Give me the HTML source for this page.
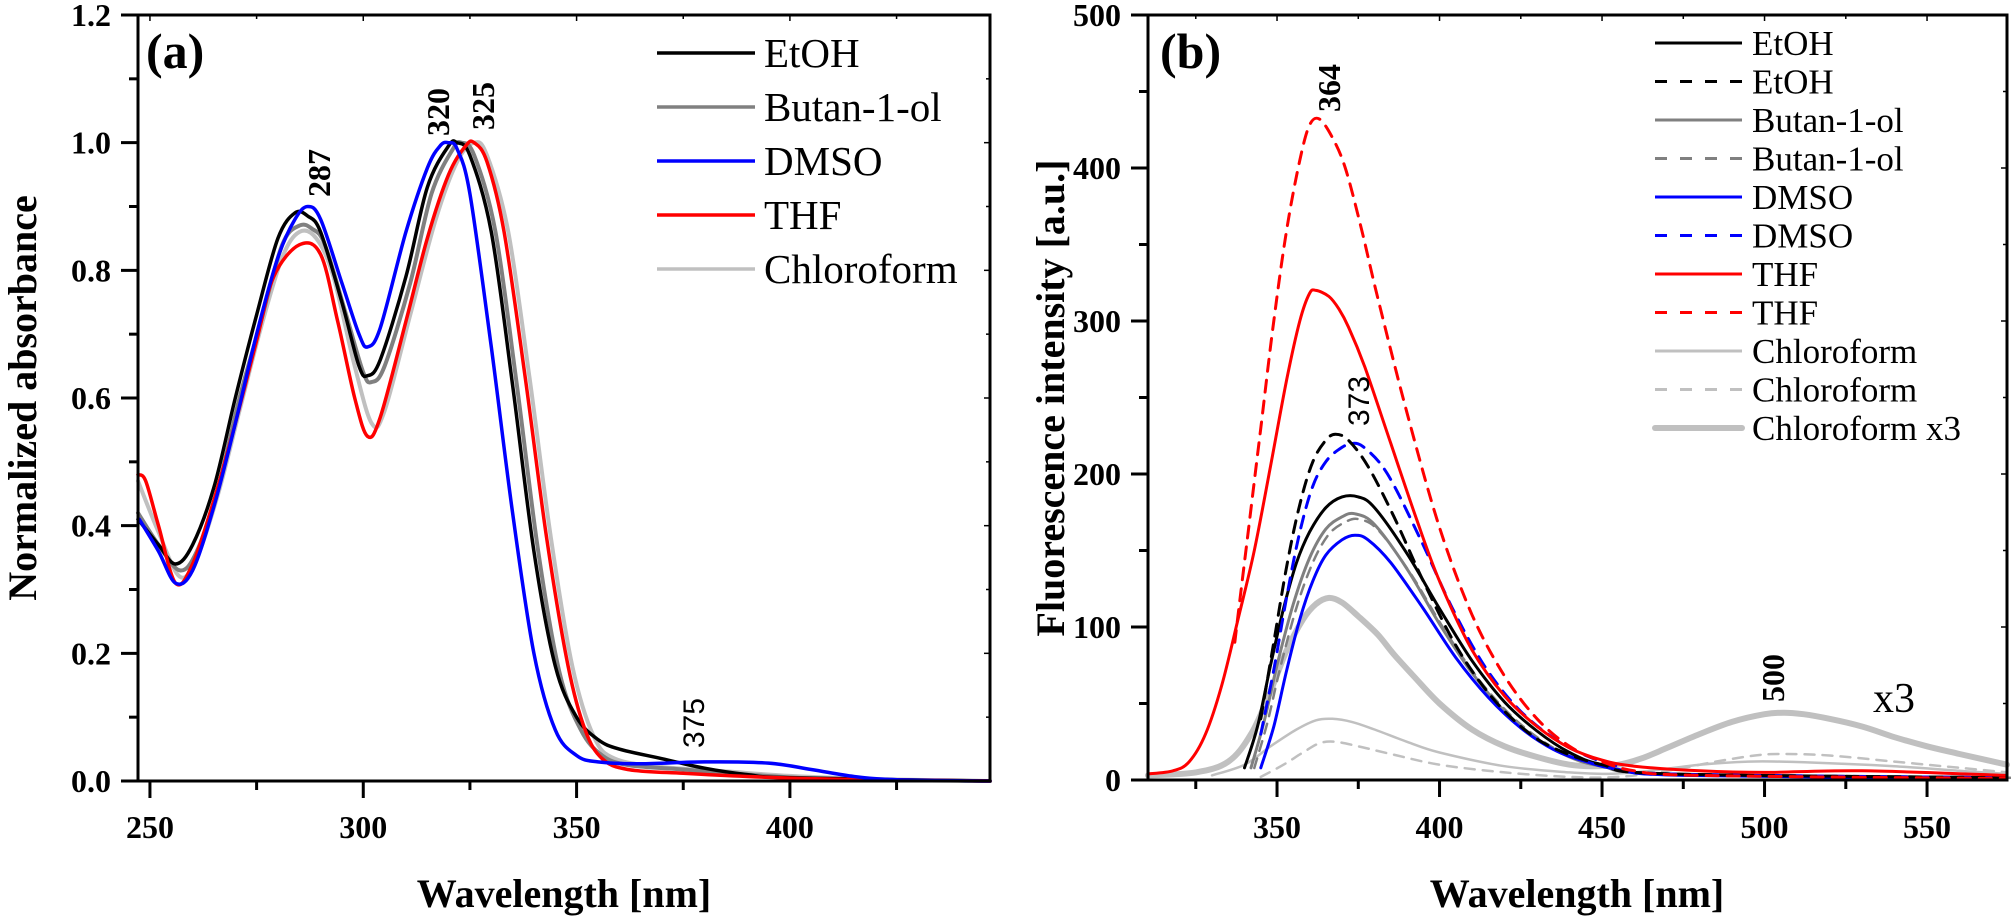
<!DOCTYPE html>
<html><head><meta charset="utf-8">
<style>
html,body{margin:0;padding:0;background:#fff;}
svg{display:block;}
text{font-family:"Liberation Serif",serif;}
.tk{font-weight:bold;font-size:32px;}
.ttl{font-weight:bold;font-size:40px;}
.lg{font-size:41px;}
.lgb{font-size:35px;}
</style></head>
<body>
<svg id="s" width="2011" height="916" xmlns="http://www.w3.org/2000/svg">
<rect width="2011" height="916" fill="#fff"/>
<g id="curves" fill="none" stroke-linejoin="round" stroke-linecap="round"></g>
<g id="axes" stroke="#000" stroke-width="3" fill="none"></g>
<g id="labels"></g>
<text x="146" y="68" style="font-weight:bold;font-size:50px">(a)</text>
<text x="1160" y="68" style="font-weight:bold;font-size:50px">(b)</text>
<text class="ttl" x="564" y="907" text-anchor="middle">Wavelength [nm]</text>
<text class="ttl" x="1577" y="907" text-anchor="middle">Wavelength [nm]</text>
<text class="ttl" transform="translate(36,398) rotate(-90)" text-anchor="middle">Normalized absorbance</text>
<text class="ttl" transform="translate(1064,398) rotate(-90)" text-anchor="middle">Fluorescence intensity [a.u.]</text>
<text class="tk" transform="translate(330,197) rotate(-90)">287</text>
<text class="tk" transform="translate(449,136) rotate(-90)">320</text>
<text class="tk" transform="translate(494,130) rotate(-90)">325</text>
<text transform="translate(704,748) rotate(-90)" style="font-family:'Liberation Sans',sans-serif;font-size:30px">375</text>
<text class="tk" transform="translate(1340,112) rotate(-90)">364</text>
<text transform="translate(1369,426) rotate(-90)" style="font-family:'Liberation Sans',sans-serif;font-size:30px">373</text>
<text class="tk" transform="translate(1784,702) rotate(-90)">500</text>
<text x="1873" y="712" style="font-size:42px">x3</text>
</svg>
<script>
const NS="http://www.w3.org/2000/svg";
const C=document.getElementById('curves'),A=document.getElementById('axes'),L=document.getElementById('labels');
function el(p,tag,at,txt){const e=document.createElementNS(NS,tag);for(const k in at)e.setAttribute(k,at[k]);if(txt!==undefined)e.textContent=txt;p.appendChild(e);return e;}
const PA={x0:138,x1:990,y0:781,y1:15,xmin:247.2,xmax:446.9,ymin:0,ymax:1.2};
const PB={x0:1148,x1:2007,y0:780,y1:15,xmin:310.3,xmax:574.6,ymin:0,ymax:500};
function mx(P,v){return P.x0+(v-P.xmin)/(P.xmax-P.xmin)*(P.x1-P.x0);}
function my(P,v){return P.y0-(v-P.ymin)/(P.ymax-P.ymin)*(P.y0-P.y1);}
function path(P,pts){
  const q=pts.map(p=>[mx(P,p[0]),my(P,p[1])]);
  let d="M"+q[0][0].toFixed(1)+","+q[0][1].toFixed(1);
  for(let i=0;i<q.length-1;i++){
    const p0=q[i-1]||q[i],p1=q[i],p2=q[i+1],p3=q[i+2]||q[i+1];
    const c1=[p1[0]+(p2[0]-p0[0])/6,p1[1]+(p2[1]-p0[1])/6];
    const c2=[p2[0]-(p3[0]-p1[0])/6,p2[1]-(p3[1]-p1[1])/6];
    d+=" C"+c1.map(v=>v.toFixed(1))+" "+c2.map(v=>v.toFixed(1))+" "+p2[0].toFixed(1)+","+p2[1].toFixed(1);
  }
  return d;
}
function curve(P,pts,col,w,dash){const a={d:path(P,pts),stroke:col,'stroke-width':w};if(dash)a['stroke-dasharray']=dash;el(C,'path',a);}
const BK='#000',GR='#808080',LG='#c0c0c0',BL='#0000ff',RD='#ff0000';
const etoh=[[247.2,0.41],[252,0.37],[256,0.34],[260,0.37],[265,0.46],[270,0.6],[275,0.73],[280,0.85],[284,0.89],[287,0.885],[290,0.86],[295,0.75],[299,0.65],[301,0.635],[304,0.66],[310,0.79],[315,0.93],[320,0.995],[322,1.0],[325,0.98],[330,0.86],[335,0.62],[340,0.36],[345,0.18],[350,0.1],[355,0.065],[360,0.05],[370,0.035],[380,0.02],[390,0.01],[400,0.005],[446.9,0.0]];
const butan=[[247.2,0.42],[252,0.37],[257,0.33],[261,0.36],[266,0.46],[271,0.6],[276,0.72],[281,0.84],[285,0.87],[288,0.865],[291,0.84],[296,0.73],[300,0.64],[302,0.625],[305,0.65],[311,0.78],[316,0.92],[321,0.99],[323,1.0],[326,0.98],[331,0.86],[336,0.62],[341,0.36],[346,0.17],[351,0.08],[356,0.04],[362,0.025],[375,0.018],[390,0.01],[410,0.003],[446.9,0.0]];
const dmso=[[247.5,0.41],[252,0.36],[256,0.31],[260,0.33],[265,0.43],[270,0.56],[275,0.7],[280,0.82],[284,0.88],[287,0.9],[290,0.88],[295,0.78],[299,0.7],[301,0.68],[304,0.71],[310,0.86],[315,0.96],[318,0.995],[320,1.0],[322,0.99],[325,0.92],[330,0.68],[335,0.42],[340,0.2],[345,0.08],[350,0.04],[355,0.03],[365,0.027],[380,0.03],[395,0.028],[405,0.018],[415,0.007],[425,0.002],[446.9,0.0]];
const thf=[[247.2,0.48],[249,0.47],[252,0.4],[256,0.31],[260,0.34],[265,0.44],[270,0.56],[275,0.69],[279,0.79],[285,0.84],[290,0.825],[294,0.72],[298,0.6],[301,0.54],[304,0.57],[310,0.72],[315,0.85],[320,0.95],[324,0.995],[326,1.0],[329,0.97],[333,0.86],[338,0.63],[343,0.38],[348,0.18],[352,0.08],[356,0.035],[362,0.018],[375,0.012],[390,0.007],[410,0.003],[446.9,0.0]];
const chl=[[247.2,0.47],[252,0.39],[257,0.32],[261,0.35],[266,0.45],[271,0.58],[276,0.71],[281,0.82],[285,0.86],[289,0.85],[293,0.79],[298,0.65],[302,0.56],[305,0.58],[311,0.73],[317,0.88],[322,0.97],[326,1.0],[329,0.98],[334,0.86],[339,0.63],[344,0.38],[349,0.18],[354,0.07],[359,0.035],[370,0.022],[385,0.015],[400,0.008],[420,0.003],[446.9,0.0]];
curve(PA,chl,LG,4);curve(PA,butan,GR,4);curve(PA,etoh,BK,3.5);curve(PA,thf,RD,3.5);curve(PA,dmso,BL,3.5);
const thfS=[[310.3,4],[318,6],[323,12],[328,30],[333,62],[338,105],[343,150],[348,205],[353,262],[357,300],[360,318],[362,320],[366,316],[369,308],[372,296],[377,270],[385,220],[393,170],[400,130],[410,85],[420,55],[430,35],[440,21],[450,13],[460,9],[480,6],[500,5],[530,6],[574.6,3]];
const thfD=[[337,90],[341,160],[345,230],[349,300],[353,360],[357,405],[360,428],[363,432],[367,420],[371,400],[376,360],[381,315],[390,240],[400,165],[410,108],[420,68],[430,40],[440,22],[450,12],[460,6],[480,3],[574.6,1]];
const etD=[[345,40],[349,90],[353,140],[357,180],[361,208],[365,222],[368,226],[372,222],[378,205],[386,172],[395,130],[405,88],[415,57],[425,35],[435,21],[450,10],[470,4],[574.6,1.5]];
const dmD=[[345,30],[349,72],[353,120],[357,162],[361,192],[365,208],[369,216],[373,220],[377,217],[384,200],[394,158],[404,112],[414,74],[424,47],[434,29],[444,17],[455,9],[470,4],[574.6,1.5]];
const etS=[[340,8],[344,35],[348,75],[352,112],[356,142],[360,162],[365,178],[370,185],[375,185],[380,178],[390,148],[400,112],[410,78],[420,51],[430,32],[440,18],[450,10],[470,4],[574.6,1.5]];
const buS=[[342,8],[346,38],[350,75],[355,115],[360,145],[365,164],[370,172],[374,174],[380,167],[390,138],[400,102],[410,70],[420,45],[430,27],[440,15],[450,9],[470,4],[574.6,1.5]];
const dmS=[[345,8],[349,35],[353,72],[357,105],[361,130],[365,147],[370,157],[374,160],[378,157],[385,142],[395,112],[405,80],[415,54],[425,34],[435,20],[445,12],[455,7],[475,3],[574.6,1]];
const chX=[[310.3,3],[325,5],[335,12],[342,30],[348,58],[353,85],[358,105],[362,115],[366,119],[370,116],[375,107],[381,95],[386,82],[392,68],[400,50],[410,33],[420,22],[430,15],[440,10],[447,9],[455,10],[462,14],[470,21],[480,30],[490,38],[500,43],[506,44],[512,43],[520,40],[530,35],[540,28],[550,22],[560,17],[574.6,10]];
const chS=[[330,3],[340,10],[348,22],[356,33],[362,39],[367,40],[373,38],[380,33],[390,25],[400,18],[420,9],[440,5],[452,4],[465,6],[480,10],[495,12],[505,12],[520,11],[540,9],[560,6],[574.6,4]];
const chD=[[345,2],[352,10],[358,18],[363,24],[368,25],[375,22],[385,17],[400,10],[420,5],[440,2],[455,2],[470,6],[485,12],[497,16],[505,17],[520,16],[540,12],[560,8],[574.6,5]];
curve(PB,chX,LG,6);curve(PB,chS,LG,2.5);curve(PB,chD,LG,2.5,"10,8");
curve(PB,buS,GR,3);curve(PB,buS.map(p=>[p[0]+1,p[1]*0.98]),GR,2.5,"10,8");
curve(PB,etS,BK,3);curve(PB,dmS,BL,3);
curve(PB,dmD,BL,3,"12,9");curve(PB,etD,BK,3,"12,9");
curve(PB,thfS,RD,3);curve(PB,thfD,RD,3,"12,9");
function axes(P,xt,xm,yt,ym,yfmt){
  el(A,'rect',{x:P.x0,y:P.y1,width:P.x1-P.x0,height:P.y0-P.y1});
  xt.forEach(v=>{const x=mx(P,v);el(A,'line',{x1:x,y1:P.y0,x2:x,y2:P.y0+17});el(A,'line',{x1:x,y1:P.y1,x2:x,y2:P.y1+6,'stroke-width':1.5});
    el(L,'text',{x:x,y:838,'text-anchor':'middle','class':'tk'},String(v));});
  xm.forEach(v=>{const x=mx(P,v);el(A,'line',{x1:x,y1:P.y0,x2:x,y2:P.y0+9});el(A,'line',{x1:x,y1:P.y1,x2:x,y2:P.y1+4,'stroke-width':1.5});});
  yt.forEach(v=>{const y=my(P,v);el(A,'line',{x1:P.x0,y1:y,x2:P.x0-17,y2:y});el(A,'line',{x1:P.x1,y1:y,x2:P.x1-6,y2:y,'stroke-width':1.5});
    el(L,'text',{x:P.x0-27,y:y+11,'text-anchor':'end','class':'tk'},yfmt(v));});
  ym.forEach(v=>{const y=my(P,v);el(A,'line',{x1:P.x0,y1:y,x2:P.x0-9,y2:y});el(A,'line',{x1:P.x1,y1:y,x2:P.x1-4,y2:y,'stroke-width':1.5});});
}
axes(PA,[250,300,350,400],[275,325,375,425],[0,0.2,0.4,0.6,0.8,1.0,1.2],[0.1,0.3,0.5,0.7,0.9,1.1],v=>v.toFixed(1));
axes(PB,[350,400,450,500,550],[325,375,425,475,525],[0,100,200,300,400,500],[50,150,250,350,450],v=>String(v));
const la=[['EtOH',BK],['Butan-1-ol',GR],['DMSO',BL],['THF',RD],['Chloroform',LG]];
la.forEach((r,i)=>{const y=53+i*54;el(L,'line',{x1:657,y1:y,x2:755,y2:y,stroke:r[1],'stroke-width':3.5});
  el(L,'text',{x:764,y:y+14,'class':'lg'},r[0]);});
const lb=[['EtOH',BK,0,3],['EtOH',BK,1,3],['Butan-1-ol',GR,0,3],['Butan-1-ol',GR,1,3],['DMSO',BL,0,3],['DMSO',BL,1,3],['THF',RD,0,3],['THF',RD,1,3],['Chloroform',LG,0,3],['Chloroform',LG,1,3],['Chloroform x3',LG,0,6]];
lb.forEach((r,i)=>{const y=43+i*38.5;const a={x1:1655,y1:y,x2:1742,y2:y,stroke:r[1],'stroke-width':r[3],'stroke-linecap':r[3]>4?'round':'butt'};if(r[2])a['stroke-dasharray']='12,13';
  el(L,'line',a);el(L,'text',{x:1752,y:y+12,'class':'lgb'},r[0]);});
</script>
</body></html>
